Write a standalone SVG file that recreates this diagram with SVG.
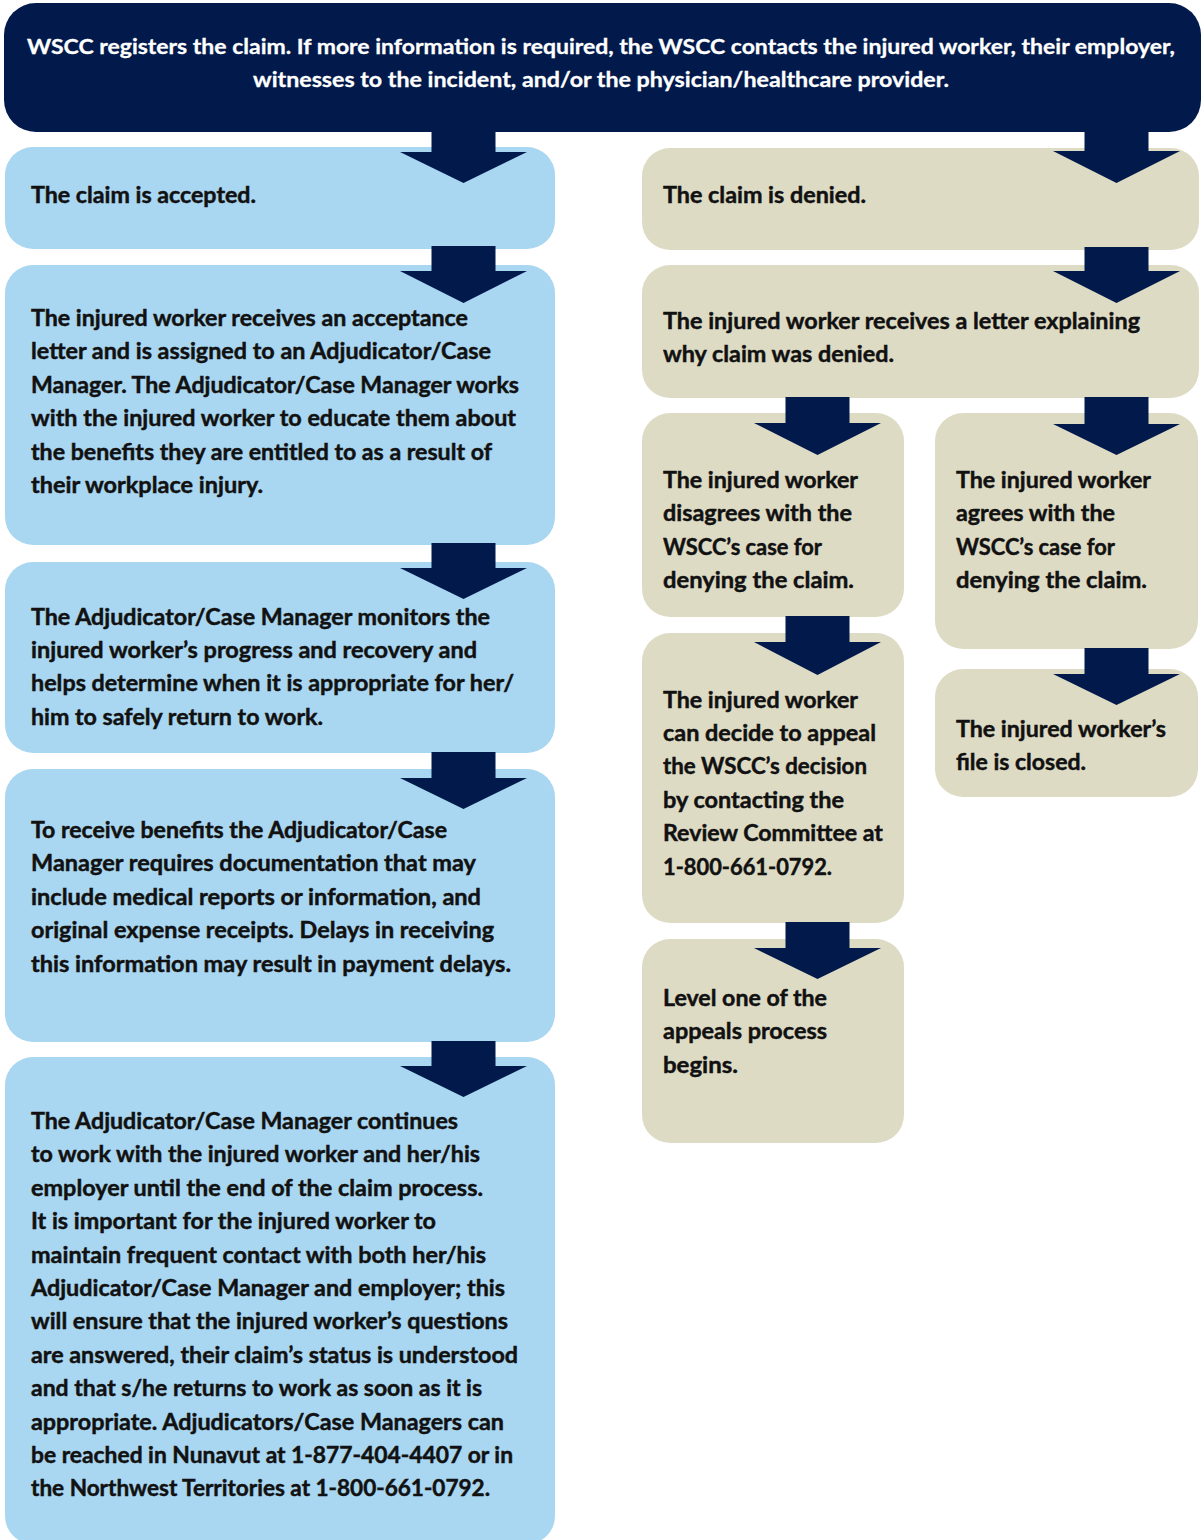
<svg xmlns="http://www.w3.org/2000/svg" width="1202" height="1540" viewBox="0 0 1202 1540">
  <style>
    .top { fill: #011a4b; }
    .blue { fill: #a9d6f0; }
    .tan { fill: #dedbc5; }
    .arrow { fill: #011a4b; }
    text { font-family: Lato, "Open Sans", "Liberation Sans", sans-serif; font-weight: 700; font-size: 22px; fill: #111111; stroke: #111111; stroke-width: 0.45px; }
    text.w { fill: #ffffff; stroke: #ffffff; stroke-width: 0.3px; font-size: 21px; }
  </style>

  <!-- header -->
  <g id="register">
    <rect class="top" x="4" y="3" width="1197" height="129" rx="32" ry="32"/>
    <text class="w" x="27" y="53.5" textLength="1148" lengthAdjust="spacingAndGlyphs">WSCC registers the claim. If more information is required, the WSCC contacts the injured worker, their employer,</text>
    <text class="w" x="253" y="86.5" textLength="696" lengthAdjust="spacingAndGlyphs">witnesses to the incident, and/or the physician/healthcare provider.</text>
  </g>

  <!-- accepted branch -->
  <g id="accepted">
    <rect class="blue" x="5" y="147" width="550" height="102" rx="28" ry="28"/>
    <text x="31" y="203" textLength="225" lengthAdjust="spacingAndGlyphs">The claim is accepted.</text>
  </g>

  <g id="acceptance-letter">
    <rect class="blue" x="5" y="265" width="550" height="280" rx="28" ry="28"/>
    <text x="31" y="326" textLength="437" lengthAdjust="spacingAndGlyphs">The injured worker receives an acceptance</text>
    <text x="31" y="359.4" textLength="460" lengthAdjust="spacingAndGlyphs">letter and is assigned to an Adjudicator/Case</text>
    <text x="31" y="392.8" textLength="488" lengthAdjust="spacingAndGlyphs">Manager. The Adjudicator/Case Manager works</text>
    <text x="31" y="426.2" textLength="485" lengthAdjust="spacingAndGlyphs">with the injured worker to educate them about</text>
    <text x="31" y="459.6" textLength="461" lengthAdjust="spacingAndGlyphs">the benefits they are entitled to as a result of</text>
    <text x="31" y="493" textLength="232" lengthAdjust="spacingAndGlyphs">their workplace injury.</text>
  </g>

  <g id="monitors">
    <rect class="blue" x="5" y="562" width="550" height="191" rx="28" ry="28"/>
    <text x="31" y="624.5" textLength="459" lengthAdjust="spacingAndGlyphs">The Adjudicator/Case Manager monitors the</text>
    <text x="31" y="657.9" textLength="446" lengthAdjust="spacingAndGlyphs">injured worker’s progress and recovery and</text>
    <text x="31" y="691.3" textLength="483" lengthAdjust="spacingAndGlyphs">helps determine when it is appropriate for her/</text>
    <text x="31" y="724.7" textLength="292" lengthAdjust="spacingAndGlyphs">him to safely return to work.</text>
  </g>

  <g id="documentation">
    <rect class="blue" x="5" y="769" width="550" height="273" rx="28" ry="28"/>
    <text x="31" y="838" textLength="416" lengthAdjust="spacingAndGlyphs">To receive benefits the Adjudicator/Case</text>
    <text x="31" y="871.4" textLength="445" lengthAdjust="spacingAndGlyphs">Manager requires documentation that may</text>
    <text x="31" y="904.8" textLength="450" lengthAdjust="spacingAndGlyphs">include medical reports or information, and</text>
    <text x="31" y="938.2" textLength="463" lengthAdjust="spacingAndGlyphs">original expense receipts. Delays in receiving</text>
    <text x="31" y="971.6" textLength="480" lengthAdjust="spacingAndGlyphs">this information may result in payment delays.</text>
  </g>

  <g id="continues">
    <rect class="blue" x="5" y="1057" width="550" height="487" rx="28" ry="28"/>
    <text x="31" y="1129" textLength="427" lengthAdjust="spacingAndGlyphs">The Adjudicator/Case Manager continues</text>
    <text x="31" y="1162.4" textLength="449" lengthAdjust="spacingAndGlyphs">to work with the injured worker and her/his</text>
    <text x="31" y="1195.8" textLength="452" lengthAdjust="spacingAndGlyphs">employer until the end of the claim process.</text>
    <text x="31" y="1229.2" textLength="405" lengthAdjust="spacingAndGlyphs">It is important for the injured worker to</text>
    <text x="31" y="1262.6" textLength="455" lengthAdjust="spacingAndGlyphs">maintain frequent contact with both her/his</text>
    <text x="31" y="1296" textLength="474" lengthAdjust="spacingAndGlyphs">Adjudicator/Case Manager and employer; this</text>
    <text x="31" y="1329.4" textLength="477" lengthAdjust="spacingAndGlyphs">will ensure that the injured worker’s questions</text>
    <text x="31" y="1362.8" textLength="487" lengthAdjust="spacingAndGlyphs">are answered, their claim’s status is understood</text>
    <text x="31" y="1396.2" textLength="451" lengthAdjust="spacingAndGlyphs">and that s/he returns to work as soon as it is</text>
    <text x="31" y="1429.6" textLength="473" lengthAdjust="spacingAndGlyphs">appropriate. Adjudicators/Case Managers can</text>
    <text x="31" y="1463" textLength="482" lengthAdjust="spacingAndGlyphs">be reached in Nunavut at 1-877-404-4407 or in</text>
    <text x="31" y="1496.4" textLength="459" lengthAdjust="spacingAndGlyphs">the Northwest Territories at 1-800-661-0792.</text>
  </g>

  <!-- denied branch -->
  <g id="denied">
    <rect class="tan" x="642" y="148" width="557" height="102" rx="28" ry="28"/>
    <text x="663" y="203" textLength="203" lengthAdjust="spacingAndGlyphs">The claim is denied.</text>
  </g>

  <g id="denial-letter">
    <rect class="tan" x="642" y="265" width="557" height="133" rx="28" ry="28"/>
    <text x="663" y="329" textLength="477" lengthAdjust="spacingAndGlyphs">The injured worker receives a letter explaining</text>
    <text x="663" y="362.4" textLength="231" lengthAdjust="spacingAndGlyphs">why claim was denied.</text>
  </g>

  <g id="disagrees">
    <rect class="tan" x="642" y="413" width="262" height="204" rx="28" ry="28"/>
    <text x="663" y="488" textLength="195" lengthAdjust="spacingAndGlyphs">The injured worker</text>
    <text x="663" y="521.4" textLength="189" lengthAdjust="spacingAndGlyphs">disagrees with the</text>
    <text x="663" y="554.8" textLength="159" lengthAdjust="spacingAndGlyphs">WSCC’s case for</text>
    <text x="663" y="588.2" textLength="191" lengthAdjust="spacingAndGlyphs">denying the claim.</text>
  </g>

  <g id="agrees">
    <rect class="tan" x="935" y="413" width="263" height="236" rx="28" ry="28"/>
    <text x="956" y="488" textLength="195" lengthAdjust="spacingAndGlyphs">The injured worker</text>
    <text x="956" y="521.4" textLength="159" lengthAdjust="spacingAndGlyphs">agrees with the</text>
    <text x="956" y="554.8" textLength="159" lengthAdjust="spacingAndGlyphs">WSCC’s case for</text>
    <text x="956" y="588.2" textLength="191" lengthAdjust="spacingAndGlyphs">denying the claim.</text>
  </g>

  <g id="appeal">
    <rect class="tan" x="642" y="633" width="262" height="290" rx="28" ry="28"/>
    <text x="663" y="707.5" textLength="195" lengthAdjust="spacingAndGlyphs">The injured worker</text>
    <text x="663" y="740.9" textLength="213" lengthAdjust="spacingAndGlyphs">can decide to appeal</text>
    <text x="663" y="774.3" textLength="204" lengthAdjust="spacingAndGlyphs">the WSCC’s decision</text>
    <text x="663" y="807.7" textLength="181" lengthAdjust="spacingAndGlyphs">by contacting the</text>
    <text x="663" y="841.1" textLength="220" lengthAdjust="spacingAndGlyphs">Review Committee at</text>
    <text x="663" y="874.5" textLength="169" lengthAdjust="spacingAndGlyphs">1-800-661-0792.</text>
  </g>

  <g id="file-closed">
    <rect class="tan" x="935" y="669" width="263" height="128" rx="28" ry="28"/>
    <text x="956" y="737" textLength="210" lengthAdjust="spacingAndGlyphs">The injured worker’s</text>
    <text x="956" y="770.4" textLength="130" lengthAdjust="spacingAndGlyphs">file is closed.</text>
  </g>

  <g id="level-one">
    <rect class="tan" x="642" y="939" width="262" height="204" rx="28" ry="28"/>
    <text x="663" y="1006" textLength="164" lengthAdjust="spacingAndGlyphs">Level one of the</text>
    <text x="663" y="1039.4" textLength="164" lengthAdjust="spacingAndGlyphs">appeals process</text>
    <text x="663" y="1072.8" textLength="75" lengthAdjust="spacingAndGlyphs">begins.</text>
  </g>

  <!-- block arrows: shaft 64 wide, head 127 wide -->
  <g id="connectors">
    <!-- left column, centre x 463.5 -->
    <polygon class="arrow" points="431.5,125 495.5,125 495.5,152 527,152 463.5,183 400,152 431.5,152"/>
    <polygon class="arrow" points="431.5,246 495.5,246 495.5,271 527,271 463.5,303 400,271 431.5,271"/>
    <polygon class="arrow" points="431.5,543 495.5,543 495.5,568 527,568 463.5,599 400,568 431.5,568"/>
    <polygon class="arrow" points="431.5,752 495.5,752 495.5,778 527,778 463.5,809 400,778 431.5,778"/>
    <polygon class="arrow" points="431.5,1041 495.5,1041 495.5,1066 527,1066 463.5,1097 400,1066 431.5,1066"/>
    <!-- right column, centre x 1116.5 -->
    <polygon class="arrow" points="1084.5,125 1148.5,125 1148.5,151 1180,151 1116.5,183 1053,151 1084.5,151"/>
    <polygon class="arrow" points="1084.5,247 1148.5,247 1148.5,271 1180,271 1116.5,303 1053,271 1084.5,271"/>
    <polygon class="arrow" points="1084.5,397 1148.5,397 1148.5,424 1180,424 1116.5,455 1053,424 1084.5,424"/>
    <polygon class="arrow" points="1084.5,648 1148.5,648 1148.5,674 1180,674 1116.5,705 1053,674 1084.5,674"/>
    <!-- middle column, centre x 817.5 -->
    <polygon class="arrow" points="785.5,397 849.5,397 849.5,423 881,423 817.5,455 754,423 785.5,423"/>
    <polygon class="arrow" points="785.5,616 849.5,616 849.5,642 881,642 817.5,675 754,642 785.5,642"/>
    <polygon class="arrow" points="785.5,922 849.5,922 849.5,948 881,948 817.5,979 754,948 785.5,948"/>
  </g>
</svg>
